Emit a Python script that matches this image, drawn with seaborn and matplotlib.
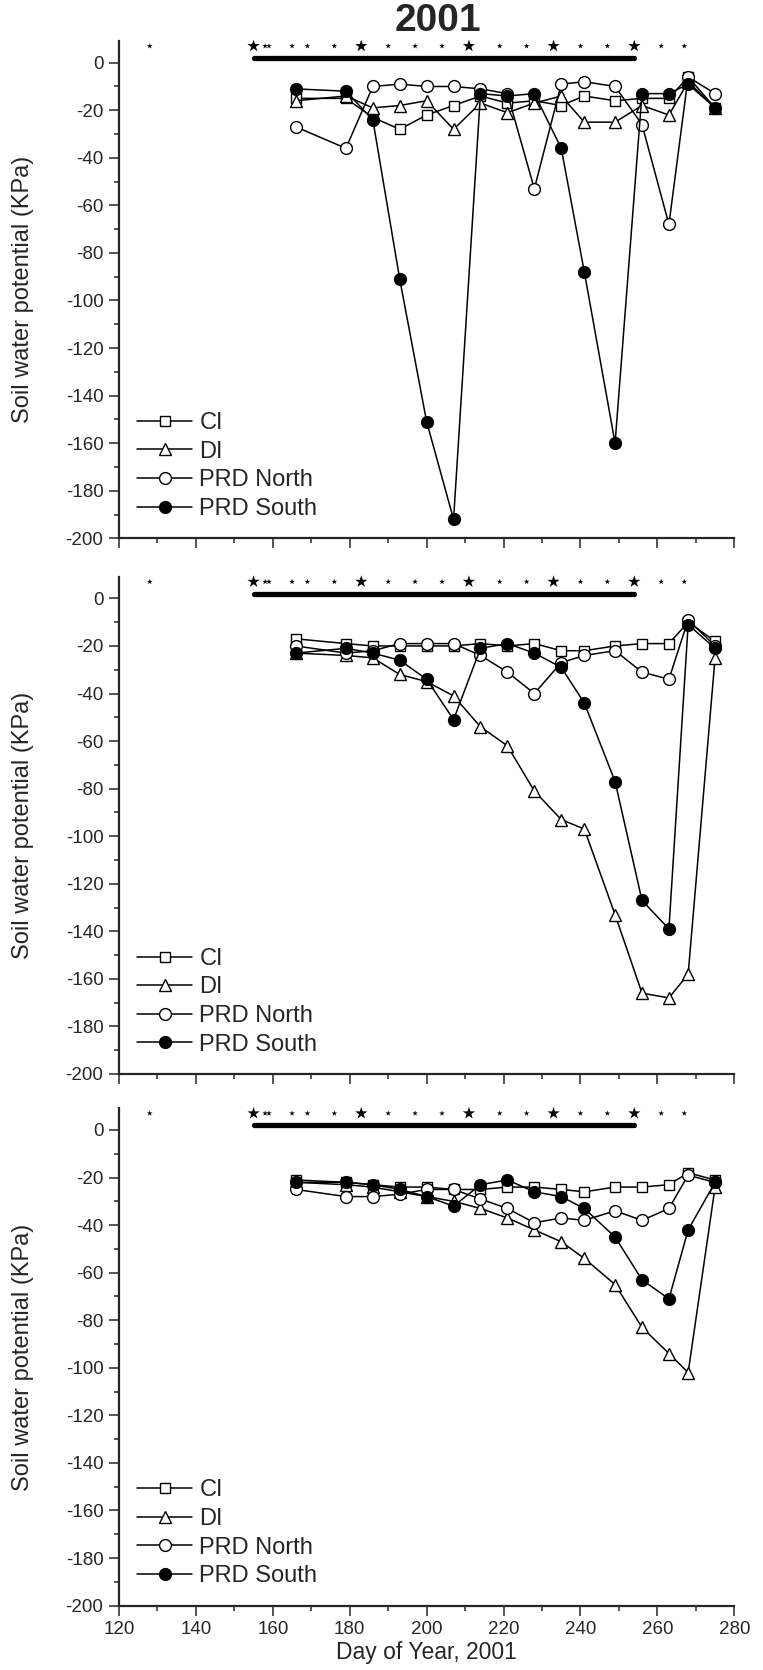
import numpy as np
import pandas as pd
import matplotlib
matplotlib.use("Agg")
import matplotlib.pyplot as plt
import seaborn as sns
from matplotlib.ticker import MultipleLocator
from matplotlib import font_manager

# ---------------- data ----------------
days = [166, 179, 186, 193, 200, 207, 214, 221, 228, 235, 241, 249, 256, 263, 268, 275]

top_ci    = [-15, -15, -23, -28, -22, -18, -14, -17, -16, -18, -14, -16, -15, -15, -6, -19]
top_di    = [-16, -14, -19, -18, -16, -28, -17, -21, -17, -14, -25, -25, -18, -22, -8, -19]
top_north = [-27, -36, -10, -9, -10, -10, -11, -13, -53, -9, -8, -10, -26, -68, -6, -13]
top_south = [-11, -12, -24, -91, -151, -192, -13, -14, -13, -36, -88, -160, -13, -13, -9, -19]

mid_ci    = [-17, -19, -20, -20, -20, -20, -19, -20, -19, -22, -22, -20, -19, -19, -10, -18]
mid_di    = [-23, -24, -25, -32, -35, -41, -54, -62, -81, -93, -97, -133, -166, -168, -158, -25]
mid_north = [-20, -23, -22, -19, -19, -19, -24, -31, -40, -27, -24, -22, -31, -34, -9, -20]
mid_south = [-23, -21, -23, -26, -34, -51, -21, -19, -23, -29, -44, -77, -127, -139, -11, -21]

bot_ci    = [-21, -22, -23, -24, -24, -25, -25, -24, -24, -25, -26, -24, -24, -23, -18, -21]
bot_di    = [-22, -23, -24, -26, -28, -30, -33, -37, -42, -47, -54, -65, -83, -94, -102, -24]
bot_north = [-25, -28, -28, -27, -25, -25, -29, -33, -39, -37, -38, -34, -38, -33, -19, -22]
bot_south = [-22, -22, -23, -25, -28, -32, -23, -21, -26, -28, -33, -45, -63, -71, -42, -22]

series_names = ["CI", "DI", "PRD North", "PRD South"]

small_star_days = [128, 158, 159, 165, 169, 176, 190, 197, 204, 219, 226, 240, 247, 261, 267]
big_star_days = [155, 183, 211, 233, 254]
bar_days = [155, 254]
star_level = 7
bar_level = 2

x_ticks = [120, 140, 160, 180, 200, 220, 240, 260, 280]
y_ticks = [0, -20, -40, -60, -80, -100, -120, -140, -160, -180, -200]

title_text = "2001"
x_label = "Day of Year, 2001"
y_label = "Soil water potential (KPa)"

# ---------------- style ----------------
sns.set_style("ticks")
plt.rcParams["font.family"] = ["Liberation Sans", "DejaVu Sans"]
plt.rcParams["axes.unicode_minus"] = False

available = {f.name for f in font_manager.fontManager.ttflist}
if "Liberation Sans Narrow" in available:
    title_font = dict(family=["Liberation Sans Narrow", "Liberation Sans"], fontsize=32)
else:
    title_font = dict(family=["Liberation Sans", "DejaVu Sans"], fontsize=28)

W, H = 763, 1670
fig = plt.figure(figsize=(W / 100, H / 100), dpi=100)

left = 119 / W
width = (734.3 - 119) / W
px_per_kpa = 2.378
ytop = 9.1
panel_zero = [62.7, 598.4, 1130.0]

styles = [
    dict(marker="s", markersize=6.5, markerfacecolor="white"),
    dict(marker="^", markersize=8.5, markerfacecolor="white"),
    dict(marker="o", markersize=8.5, markerfacecolor="white"),
    dict(marker="o", markersize=8.5, markerfacecolor="black"),
]

panels = [
    (top_ci, top_di, top_north, top_south),
    (mid_ci, mid_di, mid_north, mid_south),
    (bot_ci, bot_di, bot_north, bot_south),
]

for i, data in enumerate(panels):
    z = panel_zero[i]
    top_px = z - ytop * px_per_kpa
    bot_px = z + 200 * px_per_kpa
    ax = fig.add_axes([left, 1 - bot_px / H, width, (bot_px - top_px) / H])

    for name, vals, st in zip(series_names, data, styles):
        df = pd.DataFrame({"day": days, "swp": vals})
        sns.lineplot(data=df, x="day", y="swp", ax=ax, color="black",
                     linewidth=1.1, markeredgecolor="black", markeredgewidth=1.0,
                     label=name, **st)

    # rain / irrigation stars and period bar
    sns.scatterplot(x=small_star_days, y=[star_level] * len(small_star_days), ax=ax,
                    marker="*", s=18, color="black", edgecolor="none", legend=False,
                    clip_on=False)
    sns.scatterplot(x=big_star_days, y=[star_level] * len(big_star_days), ax=ax,
                    marker="*", s=85, color="black", edgecolor="none", legend=False,
                    clip_on=False)
    ax.plot(bar_days, [bar_level, bar_level], color="black", lw=3.8,
            solid_capstyle="round")

    ax.set_xlim(120, 280)
    ax.set_ylim(-200, ytop)
    ax.set_xticks(x_ticks)
    ax.set_yticks(y_ticks)
    ax.xaxis.set_minor_locator(MultipleLocator(10))
    ax.yaxis.set_minor_locator(MultipleLocator(10))
    ax.tick_params(which="major", direction="out", length=7.2, width=1.1,
                   labelsize=13.5, pad=4)
    ax.tick_params(which="minor", direction="out", length=3.8, width=1.1)
    sns.despine(ax=ax)
    for sp in ("left", "bottom"):
        ax.spines[sp].set_linewidth(1.6)
    ax.set_xlabel("")
    ax.set_ylabel("")
    if i < 2:
        ax.set_xticklabels([])
    else:
        ax.set_xlabel(x_label, fontsize=16.5, labelpad=2)

    fig.text(23 / W, 1 - ((top_px + bot_px) / 2) / H, y_label, rotation=90,
             ha="center", va="center", fontsize=17)

    ax.legend(loc="lower left", bbox_to_anchor=(0.03, 0.037), frameon=False,
              fontsize=17, borderaxespad=0, borderpad=0, handlelength=2.3,
              handletextpad=0.32, labelspacing=0.28)

fig.text(438 / W, 1 - 20.7 / H, title_text, ha="center", va="center",
         fontweight="bold", **title_font)

fig.savefig("out.png", dpi=100)
